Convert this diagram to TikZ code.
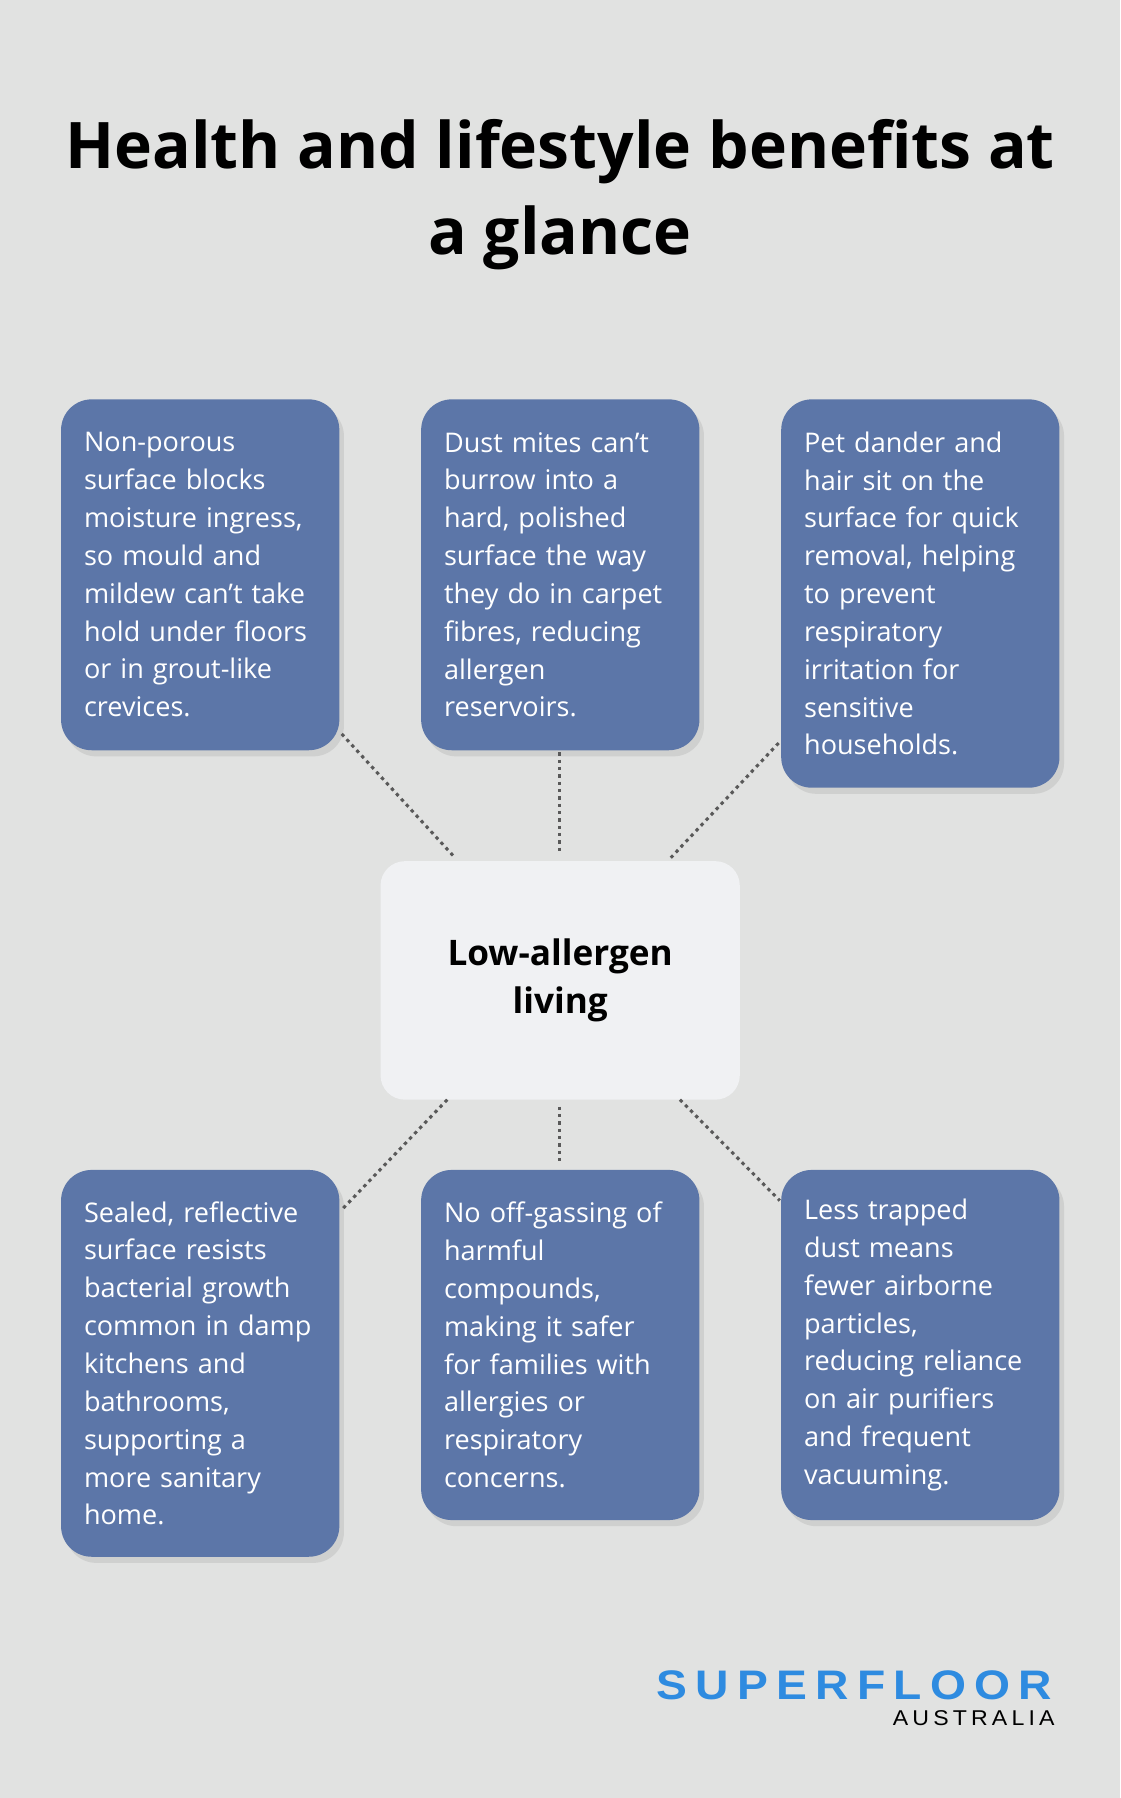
\documentclass[tikz,border=0pt]{standalone}
\usepackage{fontspec}
\setmainfont{Open Sans}
\newfontfamily\logofont[LetterSpace=18]{Liberation Sans}
\usetikzlibrary{shadows}
\definecolor{bg}{HTML}{E1E2E1}
\definecolor{boxc}{HTML}{5C76A8}
\definecolor{cen}{HTML}{F0F1F3}
\definecolor{logob}{HTML}{2E8BE0}
\tikzset{
 card/.style={fill=boxc,rounded corners=20pt,text=white,align=left,anchor=north west,
   minimum width=182pt,text width=152pt,inner xsep=14.5pt,inner ysep=12pt,
   font=\fontsize{17.7}{24.75}\selectfont,
   drop shadow={shadow xshift=3pt,shadow yshift=-4pt,opacity=0.18}},
 conn/.style={draw=black!65,dash pattern=on 2.2pt off 2.6pt,line width=2pt}
}
\begin{document}
\begin{tikzpicture}[x=0.75pt,y=-0.75pt]
\useasboundingbox[fill=bg] (0,0) rectangle (977,1568);
\node[align=center,font=\bfseries\fontsize{42}{56}\selectfont] (title) at (488.5,170) {Health and lifestyle benefits at\\a glance};
\node[card,minimum height=229.5pt] (a) at (53,348) {Non-porous\\surface blocks\\moisture ingress,\\so mould and\\mildew can’t take\\hold under floors\\or in grout-like\\crevices.};
\node[card,minimum height=229.5pt] (b) at (367,348) {Dust mites can’t\\burrow into a\\hard, polished\\surface the way\\they do in carpet\\fibres, reducing\\allergen\\reservoirs.};
\node[card,minimum height=254pt] (c) at (681,348) {Pet dander and\\hair sit on the\\surface for quick\\removal, helping\\to prevent\\respiratory\\irritation for\\sensitive\\households.};
\node[card,minimum height=253pt] (d) at (53,1020) {Sealed, reflective\\surface resists\\bacterial growth\\common in damp\\kitchens and\\bathrooms,\\supporting a\\more sanitary\\home.};
\node[card,minimum height=229pt] (e) at (367,1020) {No off-gassing of\\harmful\\compounds,\\making it safer\\for families with\\allergies or\\respiratory\\concerns.};
\node[card,minimum height=229pt] (f) at (681,1020) {Less trapped\\dust means\\fewer airborne\\particles,\\reducing reliance\\on air purifiers\\and frequent\\vacuuming.};
\node[fill=cen,rounded corners=16pt,minimum width=235pt,minimum height=156pt,align=center,
 font=\bfseries\fontsize{23}{31}\selectfont] (m) at (488.5,855) {Low-allergen\\living};
\coordinate (a1) at (298,640); \coordinate (m1) at (395,746);
\coordinate (b1) at (488,656); \coordinate (m2) at (488,742);
\coordinate (c1) at (679,648); \coordinate (m3) at (585,748);
\coordinate (m4) at (390,959); \coordinate (d1) at (298,1055);
\coordinate (m5) at (488,965); \coordinate (e1) at (488,1013);
\coordinate (m6) at (593,959); \coordinate (f1) at (680,1047);
\draw[conn] (a1)--(m1); \draw[conn] (b1)--(m2); \draw[conn] (c1)--(m3);
\draw[conn] (m4)--(d1); \draw[conn] (m5)--(e1); \draw[conn] (m6)--(f1);
\node[anchor=east,text=logob,font=\logofont\bfseries\fontsize{27}{27}\selectfont,xscale=1.12,inner sep=0] (logo) at (918,1470) {SUPERFLOOR};
\node[anchor=east,font=\logofont\fontsize{14}{14}\selectfont,xscale=1.08,inner sep=0] (aus) at (920,1498) {AUSTRALIA};
\end{tikzpicture}
\end{document}
